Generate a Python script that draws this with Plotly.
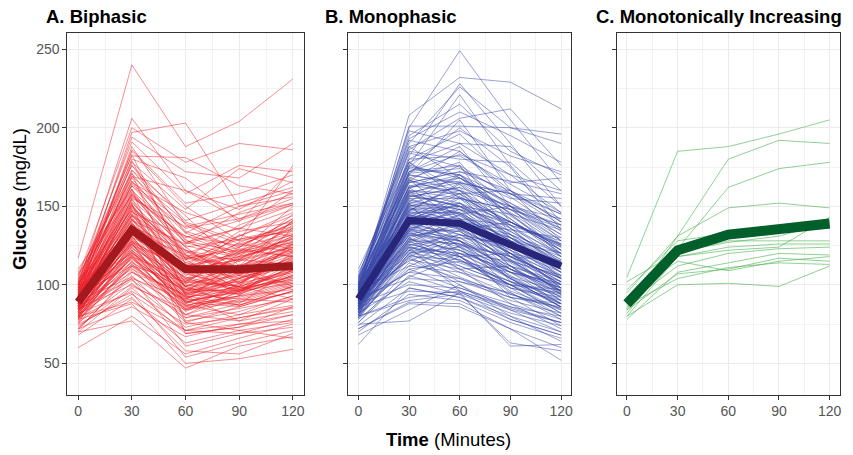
import plotly.graph_objects as go

times = [0, 30, 60, 90, 120]
x_ticks = [0, 30, 60, 90, 120]
y_ticks = [50, 100, 150, 200, 250]
panel_titles = ["A. Biphasic", "B. Monophasic", "C. Monotonically Increasing"]

biphasic_curves = [
    [117, 240, 188, 204, 231], [100, 206, 160, 142, 152], [95, 197, 203, 150, 160], [105, 200, 178, 190, 186],
    [98, 194, 172, 168, 190], [102, 191, 158, 176, 172], [92, 188, 138, 122, 132], [99, 185, 150, 128, 176],
    [104, 182, 181, 163, 158], [96, 180, 168, 140, 174], [90, 178, 148, 174, 165], [101, 176, 133, 150, 156],
    [88, 173, 144, 112, 141], [94, 171, 128, 121, 150], [100, 169, 160, 148, 166], [93, 166, 119, 116, 131],
    [86, 164, 139, 126, 121], [97, 161, 111, 131, 146], [91, 159, 124, 101, 118], [89, 157, 130, 141, 151],
    [84, 155, 101, 106, 126], [95, 153, 114, 126, 136], [87, 151, 104, 96, 112], [92, 149, 121, 109, 141],
    [83, 147, 97, 111, 121], [99, 146, 131, 119, 129], [90, 144, 109, 116, 113], [85, 142, 94, 101, 119],
    [94, 141, 126, 136, 131], [88, 139, 107, 99, 126], [80, 138, 89, 96, 106], [96, 137, 117, 111, 123],
    [86, 136, 99, 113, 109], [92, 134, 113, 104, 116], [82, 133, 94, 91, 101], [89, 132, 104, 121, 129],
    [78, 131, 87, 93, 103], [95, 130, 116, 97, 111], [84, 129, 99, 109, 97], [90, 128, 91, 105, 113],
    [87, 127, 111, 94, 106], [80, 126, 84, 101, 116], [93, 125, 99, 111, 99], [76, 124, 89, 86, 96],
    [88, 123, 105, 97, 109], [85, 122, 95, 106, 101], [91, 121, 87, 93, 121], [79, 120, 97, 89, 95],
    [86, 119, 81, 96, 107], [94, 118, 103, 99, 91], [82, 117, 84, 89, 99], [89, 116, 96, 107, 113],
    [75, 115, 77, 83, 93], [92, 114, 97, 96, 101], [84, 113, 89, 97, 105], [80, 111, 76, 86, 96],
    [88, 110, 93, 87, 99], [78, 109, 81, 91, 89], [86, 108, 87, 81, 93], [72, 106, 71, 79, 86],
    [90, 105, 85, 93, 97], [81, 103, 79, 85, 91], [76, 101, 73, 81, 87], [85, 100, 81, 77, 83],
    [70, 98, 69, 73, 81], [79, 96, 75, 79, 85], [74, 94, 71, 75, 77], [68, 91, 63, 71, 76],
    [80, 89, 71, 69, 73], [72, 86, 67, 75, 81], [60, 80, 56, 66, 75], [70, 77, 47, 61, 67],
    [78, 88, 50, 53, 59], [82, 95, 54, 63, 71], [75, 92, 58, 56, 69], [86, 104, 61, 69, 78],
    [100, 152, 69, 73, 86], [108, 171, 93, 77, 91], [110, 161, 76, 71, 66], [98, 183, 113, 98, 103],
    [103, 176, 141, 152, 162], [97, 168, 126, 146, 158], [93, 158, 117, 138, 151], [89, 150, 108, 127, 139],
    [106, 163, 127, 118, 145], [91, 143, 95, 120, 136], [87, 135, 102, 124, 133], [83, 125, 112, 134, 140],
    [96, 140, 88, 104, 124], [101, 148, 98, 94, 128], [85, 131, 92, 110, 135], [79, 118, 83, 98, 117],
    [94, 112, 90, 116, 124], [99, 120, 101, 123, 118], [107, 157, 122, 106, 117], [73, 99, 84, 95, 104],
    [88, 127, 79, 88, 110], [92, 145, 99, 87, 96], [84, 104, 91, 103, 112], [97, 173, 134, 124, 142],
    [93, 186, 152, 158, 170], [90, 165, 146, 135, 160], [86, 155, 137, 145, 152], [102, 179, 116, 129, 137],
    [81, 137, 122, 115, 131], [77, 112, 102, 118, 127], [95, 128, 108, 132, 122], [104, 134, 119, 101, 109],
    [71, 108, 94, 104, 114], [89, 122, 86, 99, 137],
    [91, 147, 118, 112, 125], [86, 139, 103, 117, 130], [95, 160, 129, 110, 122], [83, 128, 96, 102, 118],
    [99, 169, 140, 128, 135], [88, 133, 110, 121, 140], [80, 121, 92, 99, 108], [93, 152, 120, 131, 144],
    [85, 137, 108, 96, 104], [97, 144, 125, 117, 128], [89, 126, 97, 108, 121], [82, 118, 90, 95, 112],
    [94, 156, 131, 125, 139], [87, 141, 114, 107, 119], [78, 113, 86, 92, 102], [100, 163, 136, 142, 155],
    [90, 130, 101, 112, 126], [84, 124, 93, 104, 115], [96, 148, 122, 110, 130], [81, 115, 88, 100, 110],
    [92, 139, 112, 120, 132], [86, 127, 100, 94, 106], [98, 158, 127, 136, 148], [88, 135, 106, 115, 124],
    [79, 119, 91, 87, 99], [94, 145, 117, 122, 118], [83, 122, 95, 98, 108], [90, 150, 119, 107, 112],
    [87, 132, 104, 110, 120], [101, 166, 133, 120, 127], [85, 120, 89, 96, 114], [93, 142, 110, 116, 138],
    [80, 112, 85, 90, 100], [96, 154, 124, 129, 134], [89, 136, 102, 99, 109], [82, 126, 94, 108, 123],
    [91, 129, 99, 102, 115], [97, 151, 112, 118, 126], [84, 117, 92, 97, 105], [88, 144, 116, 124, 142],
]

monophasic_curves = [
    [96, 208, 232, 229, 212], [98, 200, 249, 205, 165], [104, 190, 226, 200, 196], [92, 182, 228, 190, 150],
    [96, 201, 201, 200, 190], [100, 195, 215, 185, 170], [90, 176, 221, 176, 140], [102, 186, 206, 212, 176],
    [94, 198, 190, 170, 160], [99, 193, 210, 195, 178], [88, 170, 205, 160, 128], [101, 188, 198, 182, 172],
    [97, 185, 180, 178, 150], [93, 180, 196, 165, 168], [105, 192, 185, 160, 140], [91, 178, 190, 188, 160],
    [89, 175, 170, 155, 152], [103, 184, 175, 150, 130], [86, 172, 183, 170, 146], [95, 170, 165, 158, 155],
    [92, 168, 178, 140, 122], [100, 165, 172, 166, 158], [87, 163, 160, 150, 138], [98, 162, 170, 145, 120],
    [84, 160, 158, 160, 145], [94, 158, 168, 152, 132], [90, 157, 150, 138, 128], [96, 156, 162, 130, 112],
    [82, 155, 155, 148, 136], [99, 154, 148, 140, 126], [88, 152, 160, 128, 110], [93, 151, 145, 150, 142],
    [85, 150, 152, 125, 105], [97, 149, 140, 135, 130], [91, 148, 150, 120, 100], [80, 147, 138, 130, 118],
    [95, 146, 146, 118, 104], [89, 145, 135, 140, 125], [102, 144, 142, 115, 96], [86, 143, 132, 125, 112],
    [92, 142, 148, 128, 120], [83, 141, 128, 110, 98], [98, 140, 138, 122, 108], [90, 139, 125, 118, 115],
    [87, 138, 140, 112, 92], [94, 137, 130, 126, 110], [81, 136, 122, 108, 100], [96, 135, 134, 116, 95],
    [88, 134, 118, 120, 113], [92, 133, 128, 104, 90], [84, 132, 120, 115, 106], [99, 131, 136, 110, 98],
    [86, 130, 115, 102, 94], [91, 129, 126, 118, 104], [79, 128, 112, 100, 88], [95, 127, 122, 108, 101],
    [88, 126, 118, 96, 85], [93, 125, 110, 112, 102], [82, 124, 116, 98, 90], [97, 123, 120, 105, 96],
    [85, 122, 108, 94, 84], [90, 121, 114, 102, 93], [78, 120, 105, 92, 86], [94, 119, 112, 100, 97],
    [87, 118, 102, 95, 80], [91, 116, 110, 98, 92], [80, 114, 104, 90, 82], [96, 112, 108, 100, 95],
    [84, 110, 98, 88, 78], [89, 108, 104, 94, 85], [76, 106, 96, 85, 76], [92, 104, 102, 92, 88],
    [82, 102, 94, 82, 74], [88, 100, 98, 86, 80], [74, 98, 92, 80, 70], [86, 96, 95, 84, 76],
    [70, 94, 90, 76, 66], [80, 92, 96, 78, 68], [72, 89, 88, 72, 60], [62, 98, 92, 78, 68],
    [75, 77, 95, 61, 62], [80, 90, 94, 63, 58], [72, 88, 86, 72, 52], [68, 84, 100, 80, 64],
    [104, 175, 200, 175, 135], [100, 172, 188, 150, 118], [97, 166, 185, 158, 142], [93, 161, 176, 132, 104],
    [90, 159, 165, 146, 125], [87, 153, 170, 142, 118], [101, 147, 164, 136, 110], [85, 143, 158, 122, 98],
    [94, 139, 152, 134, 116], [89, 135, 148, 118, 94], [98, 131, 145, 128, 112], [83, 127, 140, 112, 90],
    [92, 122, 135, 120, 106], [86, 118, 130, 108, 88], [95, 115, 128, 116, 102], [81, 112, 125, 104, 86],
    [90, 108, 120, 110, 96], [78, 105, 118, 100, 82], [106, 188, 168, 145, 122], [110, 178, 155, 130, 108],
    [108, 167, 142, 120, 96], [99, 160, 135, 105, 88], [94, 150, 128, 98, 80], [85, 145, 124, 92, 74],
    [76, 110, 115, 108, 98], [83, 120, 132, 125, 115], [88, 128, 142, 138, 126], [96, 138, 155, 148, 138],
    [91, 134, 150, 145, 135], [100, 147, 165, 158, 145], [93, 141, 156, 140, 125], [87, 130, 110, 88, 72],
    [79, 117, 100, 84, 70], [97, 152, 118, 95, 78], [105, 162, 140, 102, 86], [89, 124, 96, 86, 76],
    [92, 150, 158, 140, 122], [88, 140, 146, 128, 110], [95, 162, 166, 148, 128], [85, 130, 138, 120, 102],
    [98, 172, 176, 156, 134], [90, 145, 150, 132, 115], [83, 125, 132, 114, 96], [94, 158, 150, 130, 110],
    [87, 136, 144, 126, 108], [100, 168, 160, 142, 120], [91, 148, 140, 120, 100], [84, 128, 126, 108, 92],
    [96, 165, 172, 160, 140], [89, 142, 152, 140, 124], [81, 120, 124, 110, 94], [93, 155, 145, 125, 104],
    [86, 134, 130, 115, 98], [99, 176, 168, 148, 126], [90, 146, 136, 118, 100], [82, 124, 120, 104, 86],
    [95, 160, 155, 138, 118], [88, 138, 142, 130, 114], [103, 180, 182, 164, 146], [92, 152, 146, 128, 108],
    [85, 132, 128, 110, 90], [97, 166, 158, 136, 112], [89, 143, 138, 122, 104], [80, 118, 116, 100, 84],
    [94, 156, 162, 150, 132], [87, 137, 134, 116, 96], [101, 170, 164, 144, 122], [91, 149, 144, 126, 106],
    [84, 129, 122, 106, 88], [96, 163, 168, 152, 136], [90, 144, 140, 132, 120], [86, 135, 126, 112, 100],
    [98, 174, 170, 150, 128], [93, 153, 148, 134, 116], [83, 126, 118, 100, 82], [95, 159, 152, 132, 114],
    [88, 141, 136, 120, 102], [102, 178, 160, 138, 114], [92, 151, 142, 124, 98], [85, 133, 124, 104, 86],
    [97, 167, 156, 140, 124], [89, 139, 132, 118, 104], [81, 122, 118, 102, 88], [94, 157, 150, 136, 120],
    [87, 136, 128, 112, 94], [100, 171, 174, 158, 138],
]

increasing_curves = [
    [105, 185, 188, 196, 205], [95, 131, 180, 192, 190], [88, 123, 162, 174, 178], [85, 131, 149, 152, 149],
    [86, 118, 122, 124, 143], [84, 125, 131, 134, 136], [82, 121, 128, 128, 128], [80, 118, 124, 126, 126],
    [88, 112, 120, 123, 124], [78, 108, 114, 120, 119], [84, 107, 110, 117, 115], [80, 100, 101, 99, 112],
    [87, 104, 111, 114, 113], [92, 115, 109, 115, 118], [97, 128, 133, 135, 137], [102, 121, 127, 131, 140],
]

biphasic_mean = [89, 135, 110, 110, 112]
monophasic_mean = [91, 141, 139, 125, 112]
increasing_mean = [88, 122, 132, 136, 139]

panels = [
    (biphasic_curves, biphasic_mean, "rgba(236,28,36,0.55)", "#A31A1E", 8),
    (monophasic_curves, monophasic_mean, "rgba(58,74,170,0.58)", "#28267A", 7),
    (increasing_curves, increasing_mean, "rgba(66,176,72,0.65)", "#005F2A", 10),
]

W, H = 853, 455
x_domains = [(67.6, 304.3), (349.0, 572.6), (618.3, 841.7)]
y_dom = [(H - 394.5) / H, (H - 33) / H]

fig = go.Figure()
for i, (curves, mean, col, mcol, mw) in enumerate(panels):
    xa = "x" if i == 0 else f"x{i+1}"
    ya = "y" if i == 0 else f"y{i+1}"
    for c in curves:
        fig.add_trace(go.Scatter(x=times, y=c, mode="lines", xaxis=xa, yaxis=ya,
                                 line=dict(color=col, width=0.9), hoverinfo="skip", showlegend=False))
    fig.add_trace(go.Scatter(x=times, y=mean, mode="lines", xaxis=xa, yaxis=ya,
                             line=dict(color=mcol, width=mw), showlegend=False))

tick_font = dict(family="Liberation Sans, Arial, sans-serif", size=14, color="#555555")
layout = dict(width=W, height=H, margin=dict(l=0, r=0, t=0, b=0),
              paper_bgcolor="white", plot_bgcolor="white", showlegend=False)
for i, (a, b) in enumerate(x_domains):
    sx = "" if i == 0 else str(i + 1)
    layout[f"xaxis{sx}"] = dict(
        domain=[a / W, b / W], range=[-6, 126], tickmode="array", tickvals=x_ticks,
        showgrid=True, gridcolor="#EBEBEB", gridwidth=1,
        minor=dict(tickvals=[15, 45, 75, 105], showgrid=True, gridcolor="#F2F2F2", gridwidth=0.6, ticks=""),
        showline=True, mirror=True, linecolor="#333333", linewidth=1.2,
        ticks="outside", ticklen=4, tickcolor="#333333", tickfont=tick_font,
        zeroline=False, anchor="y" + sx, fixedrange=True)
    layout[f"yaxis{sx}"] = dict(
        domain=y_dom, range=[30.2, 260.3], tickmode="array", tickvals=y_ticks,
        showticklabels=(i == 0),
        showgrid=True, gridcolor="#EBEBEB", gridwidth=1,
        minor=dict(tickvals=[75, 125, 175, 225], showgrid=True, gridcolor="#F2F2F2", gridwidth=0.6, ticks=""),
        showline=True, mirror=True, linecolor="#333333", linewidth=1.2,
        ticks="outside", ticklen=4, tickcolor="#333333", tickfont=tick_font,
        zeroline=False, anchor="x" + sx, fixedrange=True)
fig.update_layout(**layout)

title_font = dict(family="Liberation Sans, Arial, sans-serif", size=18.5, color="black")
for t, xl in zip(panel_titles, [44, 324, 595]):
    fig.add_annotation(text=f"<b>{t}</b>", x=xl / W, y=1 - 17 / H, xref="paper", yref="paper",
                       xanchor="left", yanchor="middle", showarrow=False, font=title_font)
fig.add_annotation(text="<b>Glucose</b> (mg/dL)", x=19 / W, y=1 - 199 / H, xref="paper", yref="paper",
                   xanchor="center", yanchor="middle", textangle=-90, showarrow=False, font=title_font)
fig.add_annotation(text="<b>Time</b> (Minutes)", x=450 / W, y=1 - 439 / H, xref="paper", yref="paper",
                   xanchor="center", yanchor="middle", showarrow=False, font=title_font)

fig.write_html("out.html")
